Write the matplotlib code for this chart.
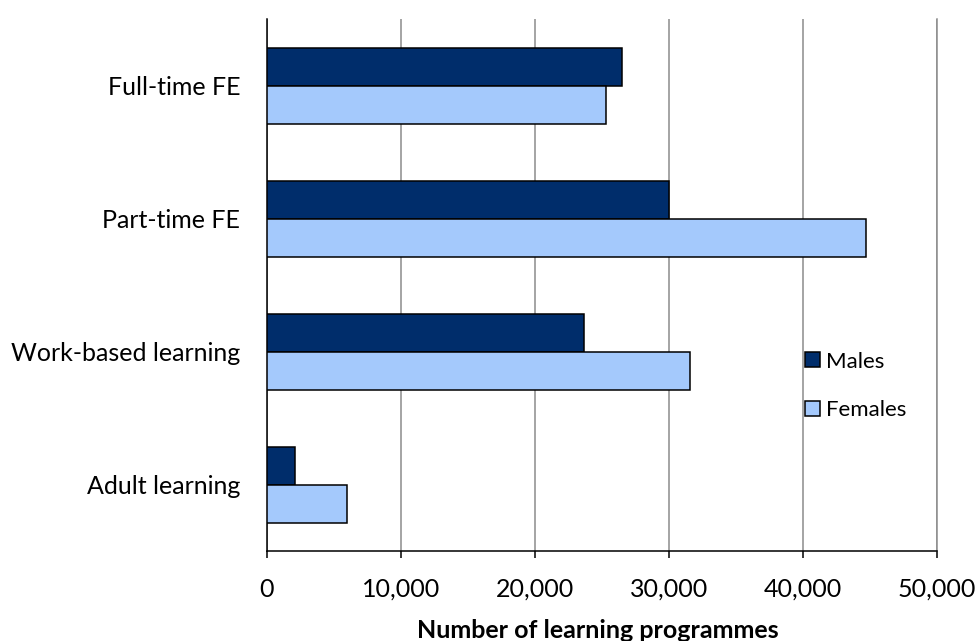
import matplotlib
matplotlib.use("Agg")
import matplotlib.pyplot as plt
from matplotlib.patches import Patch
from matplotlib.ticker import FuncFormatter

categories = ["Full-time FE", "Part-time FE", "Work-based learning", "Adult learning"]
males = [26500, 30000, 23700, 2100]
females = [25300, 44700, 31600, 6000]
series_names = ["Males", "Females"]
x_ticks = [0, 10000, 20000, 30000, 40000, 50000]
x_label = "Number of learning programmes"

male_color = "#002D6B"
female_color = "#A4C9FC"

plt.rcParams['font.family'] = ['Lato', 'DejaVu Sans']

W, H = 976, 641
fig = plt.figure(figsize=(W / 100, H / 100), dpi=100)
left, right, top, bottom = 266.7, 936.7, 19.3, 551.0
ax = fig.add_axes([left / W, 1 - bottom / H, (right - left) / W, (bottom - top) / H])

bh = 0.2857
ypos = list(range(len(categories)))
ax.barh([y - bh / 2 for y in ypos], males, height=bh, color=male_color,
        edgecolor="black", linewidth=1.1, zorder=3, label=series_names[0])
ax.barh([y + bh / 2 for y in ypos], females, height=bh, color=female_color,
        edgecolor="black", linewidth=1.1, zorder=3, label=series_names[1])

ax.set_ylim(len(categories) - 0.5, -0.5)
ax.set_xlim(x_ticks[0], x_ticks[-1])
ax.set_yticks(ypos)
ax.set_yticklabels(categories, fontsize=18)
ax.set_xticks(x_ticks)
ax.xaxis.set_major_formatter(FuncFormatter(lambda v, p: f"{int(v):,}"))
ax.tick_params(axis='y', length=0, pad=19)
ax.tick_params(axis='x', length=5.3, width=1.1, pad=14, labelsize=18, direction='out')

ax.grid(axis='x', color="#8C8C8C", linewidth=1.1, zorder=0)
ax.set_axisbelow(True)
ax.spines['top'].set_visible(False)
ax.spines['right'].set_color("#8C8C8C")
ax.spines['right'].set_linewidth(1.1)
ax.spines['left'].set_linewidth(1.1)
ax.spines['bottom'].set_linewidth(1.1)

fig.text(598 / W, 1 - 619 / H, x_label, ha='center', va='top',
         fontsize=18, fontweight='bold')

handles = [Patch(facecolor=male_color, edgecolor="black", linewidth=1.1),
           Patch(facecolor=female_color, edgecolor="black", linewidth=1.1)]
fig.legend(handles, series_names, loc='center left',
           bbox_to_anchor=(805 / W, 1 - 386 / H), bbox_transform=fig.transFigure,
           frameon=False, fontsize=16, handlelength=0.68, handleheight=0.68,
           handletextpad=0.27, labelspacing=1.3, borderpad=0, borderaxespad=0)

fig.savefig("out.png", dpi=100)
